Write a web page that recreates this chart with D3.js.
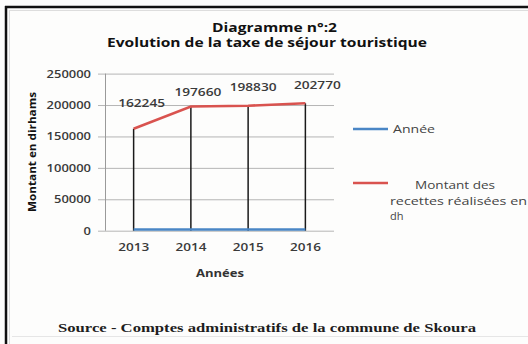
<!DOCTYPE html>
<html>
<head>
<meta charset="utf-8">
<script src="https://cdn.jsdelivr.net/npm/d3@7"></script>
<style>
  html, body { margin: 0; padding: 0; background: #ffffff; }
  svg { display: block; }
</style>
</head>
<body>
<script>
// Taxe de séjour touristique, commune de Skoura
const years = ["2013", "2014", "2015", "2016"];
const anneeValues = [2013, 2014, 2015, 2016];
const montantValues = [162245, 197660, 198830, 202770];
const yTicks = [0, 50000, 100000, 150000, 200000, 250000];
const titleLines = ["Diagramme n°:2", "Evolution de la taxe de séjour touristique"];
const legendLabels = ["Année", "Montant des", "recettes réalisées en", "dh"];

const W = 528, H = 344;
const svg = d3.select("body").append("svg").attr("width", W).attr("height", H);

svg.append("rect").attr("width", W).attr("height", H).attr("fill", "#fdfdfc");

// frame
svg.append("line").attr("x1", 5).attr("x2", W).attr("y1", 7).attr("y2", 7)
  .attr("stroke", "#111").attr("stroke-width", 2.5);
svg.append("line").attr("x1", 6).attr("x2", 6).attr("y1", 6).attr("y2", H)
  .attr("stroke", "#111").attr("stroke-width", 2.5);
svg.append("line").attr("x1", 9).attr("x2", W).attr("y1", 10.5).attr("y2", 10.5)
  .attr("stroke", "#ddd").attr("stroke-width", 1);
svg.append("line").attr("x1", 9.5).attr("x2", 9.5).attr("y1", 10).attr("y2", H)
  .attr("stroke", "#ddd").attr("stroke-width", 1);

const font = "'Open Sans', 'DejaVu Sans', sans-serif";

// title
svg.append("text").attr("x", 274.5).attr("y", 31.5).attr("text-anchor", "middle")
  .attr("font-family", font).attr("font-weight", 700).attr("font-size", 12.5)
  .attr("fill", "#111").attr("textLength", 125).attr("lengthAdjust", "spacingAndGlyphs")
  .text(titleLines[0]);
svg.append("text").attr("x", 267).attr("y", 47).attr("text-anchor", "middle")
  .attr("font-family", font).attr("font-weight", 700).attr("font-size", 12.5)
  .attr("fill", "#111").attr("textLength", 320).attr("lengthAdjust", "spacingAndGlyphs")
  .text(titleLines[1]);

// scales
const x = d3.scaleBand().domain(years).range([105, 334]);
const y = d3.scaleLinear().domain([0, 250000]).range([230.7, 73.6]);
const cx = d => x(d) + x.bandwidth() / 2;

// gridlines + y axis
const yAxis = d3.axisLeft(y).tickValues(yTicks).tickSize(-(334 - 105)).tickSizeOuter(0)
  .tickPadding(14).tickFormat(d3.format("d"));
const gy = svg.append("g").attr("transform", "translate(105,0)").call(yAxis);
gy.select(".domain").remove();
gy.selectAll(".tick line").attr("stroke", "#b5b5b5").attr("stroke-width", 1)
  .attr("x1", -7);
gy.selectAll(".tick text").attr("font-family", font).attr("font-size", 11)
  .attr("font-weight", 600).attr("fill", "#3a3a3a")
  .attr("textLength", d => String(d).length * 7.4).attr("lengthAdjust", "spacingAndGlyphs");
svg.append("line").attr("x1", 105.5).attr("x2", 105.5).attr("y1", y(250000)).attr("y2", y(0))
  .attr("stroke", "#9a9a9a").attr("stroke-width", 1);

// x axis labels
const xAxis = d3.axisBottom(x).tickSize(0).tickPadding(13);
const gx = svg.append("g").attr("transform", `translate(0,${y(0)})`).call(xAxis);
gx.select(".domain").remove();
gx.selectAll(".tick text").attr("font-family", font).attr("font-size", 11)
  .attr("font-weight", 600).attr("fill", "#3a3a3a")
  .attr("textLength", 31).attr("lengthAdjust", "spacingAndGlyphs");

// axis titles
svg.append("text").attr("x", 220).attr("y", 276.7).attr("text-anchor", "middle")
  .attr("font-family", font).attr("font-weight", 700).attr("font-size", 10.5)
  .attr("fill", "#333").attr("textLength", 48).attr("lengthAdjust", "spacingAndGlyphs")
  .text("Années");
svg.append("text").attr("transform", "translate(36,152) rotate(-90)").attr("text-anchor", "middle")
  .attr("font-family", font).attr("font-weight", 700).attr("font-size", 10.5)
  .attr("fill", "#111").attr("textLength", 120).attr("lengthAdjust", "spacingAndGlyphs")
  .text("Montant en dirhams");

// drop lines
svg.append("g").selectAll("line").data(montantValues).join("line")
  .attr("x1", (d, i) => cx(years[i])).attr("x2", (d, i) => cx(years[i]))
  .attr("y1", d => y(d)).attr("y2", y(0))
  .attr("stroke", "#1a1a1a").attr("stroke-width", 1.5);

// series lines
const line = d3.line().x((d, i) => cx(years[i])).y(d => y(d));
svg.append("path").datum(anneeValues).attr("d", line).attr("fill", "none")
  .attr("stroke", "#4a86c5").attr("stroke-width", 2.6);
svg.append("path").datum(montantValues).attr("d", line).attr("fill", "none")
  .attr("stroke", "#d9534f").attr("stroke-width", 2.6);

// value labels, nudged off the line
const labelShift = [[8, -22], [7, -10], [5, -15], [12, -14]];
svg.append("g").selectAll("text").data(montantValues).join("text")
  .attr("x", (d, i) => cx(years[i]) + labelShift[i][0])
  .attr("y", (d, i) => y(d) + labelShift[i][1])
  .attr("text-anchor", "middle").attr("font-family", font).attr("font-size", 11)
  .attr("font-weight", 600).attr("fill", "#3a3a3a")
  .attr("textLength", 47).attr("lengthAdjust", "spacingAndGlyphs")
  .text(d => d);

// legend
const lg = svg.append("g").attr("font-family", font).attr("font-size", 11).attr("fill", "#444");
lg.append("line").attr("x1", 353).attr("x2", 388).attr("y1", 129).attr("y2", 129)
  .attr("stroke", "#4a86c5").attr("stroke-width", 2.6);
lg.append("text").attr("x", 393).attr("y", 133)
  .attr("textLength", 42).attr("lengthAdjust", "spacingAndGlyphs").text(legendLabels[0]);
lg.append("line").attr("x1", 353).attr("x2", 388).attr("y1", 183).attr("y2", 183)
  .attr("stroke", "#d9534f").attr("stroke-width", 2.6);
lg.append("text").attr("x", 415).attr("y", 189)
  .attr("textLength", 80).attr("lengthAdjust", "spacingAndGlyphs").text(legendLabels[1]);
lg.append("text").attr("x", 390).attr("y", 204.5)
  .attr("textLength", 137).attr("lengthAdjust", "spacingAndGlyphs").text(legendLabels[2]);
lg.append("text").attr("x", 390).attr("y", 220).text(legendLabels[3]);

// source note
svg.append("line").attr("x1", 12).attr("x2", W).attr("y1", 336.5).attr("y2", 336.5)
  .attr("stroke", "#e6e6e6").attr("stroke-width", 1);
svg.append("text").attr("x", 58).attr("y", 332)
  .attr("font-family", "'Liberation Serif', 'DejaVu Serif', serif").attr("font-weight", 700)
  .attr("font-size", 13.5).attr("fill", "#1e1e1e")
  .attr("textLength", 418).attr("lengthAdjust", "spacingAndGlyphs")
  .text("Source - Comptes administratifs de la commune de Skoura");
</script>
</body>
</html>
